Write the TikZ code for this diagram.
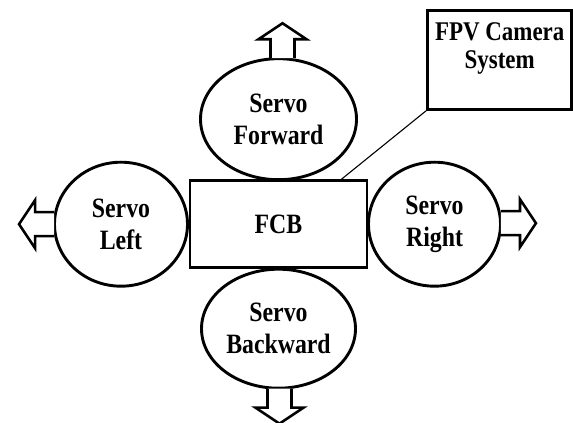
\documentclass[tikz,border=0pt]{standalone}
\usepackage{fontspec}
\newfontfamily\narrowserif{Liberation Serif}[FakeStretch=0.85]
\usetikzlibrary{shapes.geometric}

\tikzset{pics/blockarrow/.style={code={
	\draw[push] (-12,-1) -- (-12,18) -- (-24,18) -- (0,34) -- (24,18) -- (12,18) -- (12,-1);
}}}

\begin{document}
\begin{tikzpicture}[x=1pt,y=1pt]
	\tikzstyle{servo}=[ellipse, draw=black, line width=2.9pt, fill=white, align=center, inner sep=0pt, font=\narrowserif\bfseries\fontsize{28}{32}\selectfont]
	\tikzstyle{board}=[rectangle, draw=black, line width=2.9pt, minimum width=177pt, minimum height=87pt, font=\narrowserif\bfseries\fontsize{28}{32}\selectfont]
	\tikzstyle{camera}=[rectangle, draw=black, line width=3pt, minimum width=144pt, minimum height=99pt, align=center, font=\narrowserif\bfseries\fontsize{27}{28}\selectfont]
	\tikzstyle{push}=[draw=black, line width=2.6pt, fill=white]
	\tikzstyle{link}=[line width=1.1pt]
	\useasboundingbox (0,0) rectangle (573,423);
	  \node[board] (fcb) at (278.5,198.8) {FCB};
	  \node[servo, minimum width=156pt, minimum height=121pt] (fwd) [above of=fcb, node distance=105pt] {Servo\\Forward};
	  \node[servo, minimum width=154pt, minimum height=119pt] (back) [below of=fcb, node distance=104.5pt] {Servo\\Backward};
	  \node[servo, minimum width=133pt, minimum height=124pt] (left) [left of=fcb, node distance=157.5pt] {Servo\\Left};
	  \node[servo, minimum width=132pt, minimum height=124pt] (right) [right of=fcb, node distance=156pt] {Servo\\Right};
	  \node[camera] (cam) at (499.7,363.3) {FPV Camera\\System\\~};
	  % direction arrows
	  \pic at ([xshift=4pt]fwd.north) {blockarrow};
	  \pic[rotate=180] at ([xshift=1pt]back.south) {blockarrow};
	  \pic[rotate=90] at (left.west) {blockarrow};
	  \pic[rotate=-90] at ([yshift=1pt]right.east) {blockarrow};
	  \draw[link] (cam.south west) -- ([xshift=-27pt]fcb.north east);
\end{tikzpicture}
\end{document}
